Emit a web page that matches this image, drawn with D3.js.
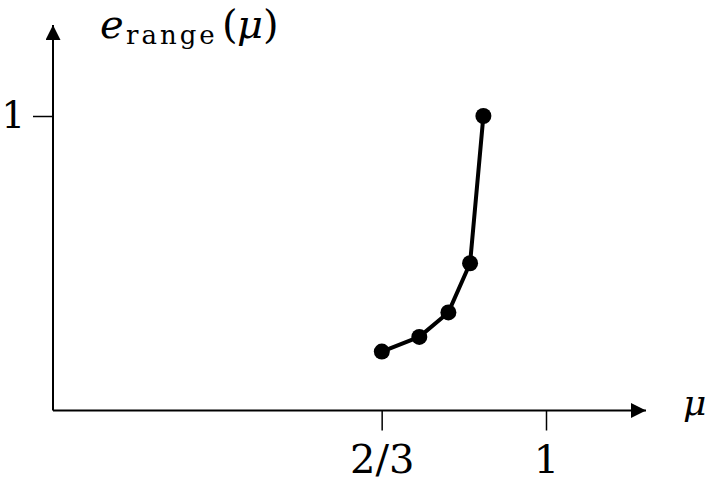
<!DOCTYPE html>
<html>
<head>
<meta charset="utf-8">
<script src="https://d3js.org/d3.v7.min.js"></script>
<style>
  body { margin: 0; background: #fff; }
  svg { display: block; }
  text { font-family: "DejaVu Serif", serif; fill: #000; }
</style>
</head>
<body>
<div id="chart"></div>
<script>
// values
var mu = [0.667, 0.743, 0.802, 0.846, 0.873]
var eRange = [0.2, 0.25, 0.333, 0.5, 1]
var xTicks = [2 / 3, 1]
var xTickLabels = ['2/3', '1']
var yTicks = [1]
var yTickLabels = ['1']

var width = 711, height = 487
var serif = '"DejaVu Serif", serif'

var x = d3.scaleLinear().domain([0, 1]).range([53, 546])
var y = d3.scaleLinear().domain([0, 1]).range([410.5, 116])

var svg = d3.select('#chart').append('svg')
    .attr('width', width)
    .attr('height', height)

// arrow heads
svg.append('defs').append('marker')
    .attr('id', 'arrow')
    .attr('viewBox', '0 0 10 10')
    .attr('refX', 10)
    .attr('refY', 5)
    .attr('markerWidth', 8.5)
    .attr('markerHeight', 7.5)
    .attr('markerUnits', 'strokeWidth')
    .attr('orient', 'auto')
  .append('path')
    .attr('d', 'M0,0 L10,5 L0,10 Z')
    .attr('fill', '#000')

// axis lines with arrows
svg.append('line')
    .attr('x1', x(0)).attr('y1', y(0))
    .attr('x2', 646).attr('y2', y(0))
    .attr('stroke', '#000').attr('stroke-width', 2)
    .attr('marker-end', 'url(#arrow)')

svg.append('line')
    .attr('x1', x(0)).attr('y1', y(0))
    .attr('x2', x(0)).attr('y2', 25)
    .attr('stroke', '#000').attr('stroke-width', 2)
    .attr('marker-end', 'url(#arrow)')

// ticks via d3 axes, domain line hidden
var xAxis = svg.append('g')
    .attr('transform', 'translate(0,' + y(0) + ')')
    .call(d3.axisBottom(x).tickValues(xTicks)
        .tickFormat((d, i) => xTickLabels[i])
        .tickSize(20).tickPadding(14))
xAxis.select('.domain').remove()
xAxis.selectAll('line').attr('stroke', '#000').attr('stroke-width', 1.5)
xAxis.selectAll('text')
    .attr('font-size', 40)
    .style('font-family', serif)

var yAxis = svg.append('g')
    .attr('transform', 'translate(' + x(0) + ',0)')
    .call(d3.axisLeft(y).tickValues(yTicks)
        .tickFormat((d, i) => yTickLabels[i])
        .tickSize(20).tickPadding(8))
yAxis.select('.domain').remove()
yAxis.selectAll('line').attr('stroke', '#000').attr('stroke-width', 1.5)
yAxis.selectAll('text')
    .attr('font-size', 37)
    .style('font-family', serif)

// axis titles
svg.append('text')
    .attr('x', 683).attr('y', 415)
    .attr('font-size', 36)
    .attr('font-style', 'italic')
    .text('μ')

var title = svg.append('text')
    .attr('y', 38)
    .attr('font-size', 40)
title.append('tspan').attr('x', 100).attr('font-style', 'italic').text('e')
title.append('tspan').attr('x', 126).attr('y', 44)
    .attr('font-size', 26).attr('letter-spacing', 3).text('range')
title.append('tspan').attr('x', 222).attr('y', 38).text('(')
title.append('tspan').attr('x', 237).attr('font-style', 'italic').text('μ')
title.append('tspan').attr('x', 263).text(')')

// data line and dots
var pts = mu.map((m, i) => [m, eRange[i]])

svg.append('path')
    .datum(pts)
    .attr('fill', 'none')
    .attr('stroke', '#000')
    .attr('stroke-width', 4)
    .attr('stroke-linejoin', 'round')
    .attr('d', d3.line().x(d => x(d[0])).y(d => y(d[1])))

svg.selectAll('circle.pt')
    .data(pts)
    .join('circle')
    .attr('class', 'pt')
    .attr('cx', d => x(d[0]))
    .attr('cy', d => y(d[1]))
    .attr('r', 8)
    .attr('fill', '#000')
</script>
</body>
</html>
